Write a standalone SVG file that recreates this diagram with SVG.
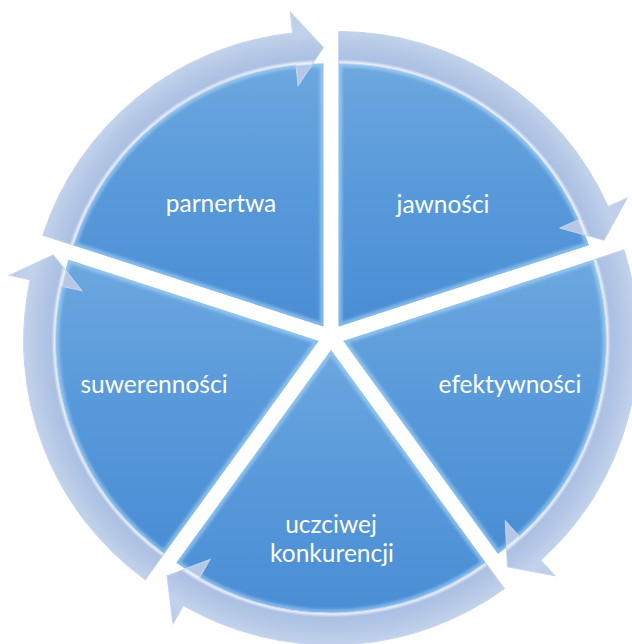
<svg xmlns="http://www.w3.org/2000/svg" width="632" height="644" viewBox="0 0 632 644">
  <style>
    .seg { fill: url(#segFill); }
    .bevel { fill: none; stroke: #b3ddfb; stroke-width: 7; stroke-opacity: 0.55; filter: url(#soft); }
    .ring { fill: url(#ringFill); stroke: #c6d5ec; stroke-width: 1; stroke-linejoin: miter; }
    .label { font-family: Lato, "Liberation Sans", Arial, sans-serif; font-size: 24.5px; fill: #ffffff; text-anchor: middle; }
  </style>
  <defs>
    <linearGradient id="segFill" x1="0" y1="0" x2="0" y2="1">
      <stop offset="0" stop-color="#6ca7df"/>
      <stop offset="0.5" stop-color="#5899da"/>
      <stop offset="1" stop-color="#4a8dd4"/>
    </linearGradient>
    <radialGradient id="ringFill" gradientUnits="userSpaceOnUse" cx="0" cy="0" r="316">
      <stop offset="0.76" stop-color="#b6c9e7"/>
      <stop offset="0.826" stop-color="#b4c7e6"/>
      <stop offset="0.834" stop-color="#eef4fb"/>
      <stop offset="0.846" stop-color="#abc0e3"/>
      <stop offset="0.89" stop-color="#b5c8e6"/>
      <stop offset="0.933" stop-color="#c2d2eb"/>
      <stop offset="1" stop-color="#bccde9"/>
    </radialGradient>
    <filter id="soft" x="-5%" y="-5%" width="110%" height="110%">
      <feGaussianBlur stdDeviation="1.6"/>
    </filter>
    <!-- one circular arrow, drawn for the segment spanning 0..72 degrees around its own centre -->
    <path id="arc" d="M0,-295 A295 295 0 0 1 269.48,-119.98 L288.67,-128.52 L265.36,-86.21 L221.07,-98.42 L240.25,-106.96 A263 263 0 0 0 0,-263 Z"/>
    <clipPath id="c0"><path d="M338.64,326.48 L338.64,63.48 A263 263 0 0 1 588.78,245.21 Z"/></clipPath>
    <clipPath id="c1"><path d="M343.36,341.02 L593.50,259.75 A263 263 0 0 1 497.95,553.79 Z"/></clipPath>
    <clipPath id="c2"><path d="M331,350 L485.59,562.77 A263 263 0 0 1 176.41,562.77 Z"/></clipPath>
    <clipPath id="c3"><path d="M318.64,341.02 L164.05,553.79 A263 263 0 0 1 68.50,259.75 Z"/></clipPath>
    <clipPath id="c4"><path d="M323.36,326.48 L73.22,245.21 A263 263 0 0 1 323.36,63.48 Z"/></clipPath>
  </defs>

  <rect width="632" height="644" fill="#ffffff"/>

  <g id="jawnosci">
    <path class="seg" d="M338.64,326.48 L338.64,63.48 A263 263 0 0 1 588.78,245.21 Z"/>
    <path class="bevel" clip-path="url(#c0)" d="M338.64,326.48 L338.64,63.48 A263 263 0 0 1 588.78,245.21 Z"/>
    <text class="label" x="443" y="213">jawności</text>
  </g>

  <g id="efektywnosci">
    <path class="seg" d="M343.36,341.02 L593.50,259.75 A263 263 0 0 1 497.95,553.79 Z"/>
    <path class="bevel" clip-path="url(#c1)" d="M343.36,341.02 L593.50,259.75 A263 263 0 0 1 497.95,553.79 Z"/>
    <text class="label" x="510" y="393">efektywności</text>
  </g>

  <g id="uczciwej-konkurencji">
    <path class="seg" d="M331,350 L485.59,562.77 A263 263 0 0 1 176.41,562.77 Z"/>
    <path class="bevel" clip-path="url(#c2)" d="M331,350 L485.59,562.77 A263 263 0 0 1 176.41,562.77 Z"/>
    <text class="label" x="331" y="533">uczciwej</text>
    <text class="label" x="332" y="562">konkurencji</text>
  </g>

  <g id="suwerennosci">
    <path class="seg" d="M318.64,341.02 L164.05,553.79 A263 263 0 0 1 68.50,259.75 Z"/>
    <path class="bevel" clip-path="url(#c3)" d="M318.64,341.02 L164.05,553.79 A263 263 0 0 1 68.50,259.75 Z"/>
    <text class="label" x="154" y="393">suwerenności</text>
  </g>

  <g id="parnertwa">
    <path class="seg" d="M323.36,326.48 L73.22,245.21 A263 263 0 0 1 323.36,63.48 Z"/>
    <path class="bevel" clip-path="url(#c4)" d="M323.36,326.48 L73.22,245.21 A263 263 0 0 1 323.36,63.48 Z"/>
    <text class="label" x="221" y="212">parnertwa</text>
  </g>

  <!-- clockwise arrows around the rim, one per segment -->
  <g id="connectors">
    <use href="#arc" class="ring" transform="translate(338.64,326.48)"/>
    <use href="#arc" class="ring" transform="translate(343.36,341.02) rotate(72)"/>
    <use href="#arc" class="ring" transform="translate(331,350) rotate(144)"/>
    <use href="#arc" class="ring" transform="translate(318.64,341.02) rotate(216)"/>
    <use href="#arc" class="ring" transform="translate(323.36,326.48) rotate(288)"/>
  </g>
</svg>
